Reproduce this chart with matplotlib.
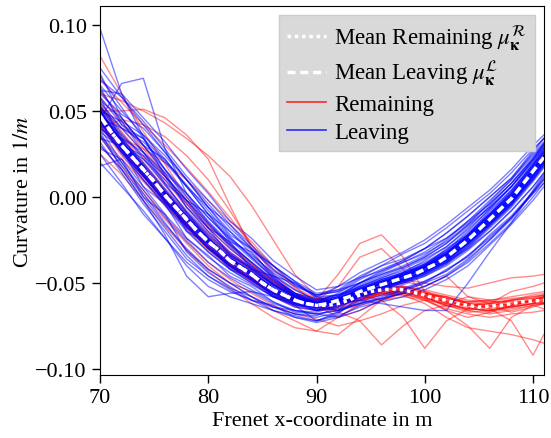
import numpy as np
import matplotlib
matplotlib.use("Agg")
import matplotlib.pyplot as plt
from matplotlib.lines import Line2D

plt.rcParams['font.family'] = ['Liberation Serif', 'DejaVu Serif']
plt.rcParams['mathtext.fontset'] = 'stix'
plt.rcParams['font.size'] = 16

# fine grid for the means (1 m), coarse grid for individual tracks (2 m)
x_mean = list(range(70, 112))
mean_remaining = [.047, .038, .030, .023, .016, .009, .001, -.006, -.013, -.020,
                  -.026, -.031, -.037, -.041, -.045, -.050, -.054, -.057, -.060, -.062,
                  -.063, -.063, -.062, -.060, -.057, -.055, -.054, -.0535, -.054, -.0555,
                  -.057, -.059, -.060, -.062, -.063, -.064, -.0635, -.063, -.062, -.061,
                  -.0605, -.060]
mean_leaving = [.047, .038, .030, .023, .016, .009, .001, -.006, -.013, -.020,
                -.026, -.031, -.037, -.041, -.045, -.050, -.054, -.057, -.060, -.062,
                -.063, -.062, -.060, -.058, -.055, -.053, -.051, -.049, -.047, -.045,
                -.042, -.039, -.035, -.030, -.025, -.019, -.013, -.007, -.001, .007,
                .015, .023]

x_track = [70, 72, 74, 76, 78, 80, 82, 84, 86, 88, 90, 92, 94, 96, 98, 100, 102, 104, 106, 108, 110, 111]

leaving_tracks = [
    [.052,.040,.034,.021,.007,-.008,-.023,-.035,-.047,-.056,-.061,-.058,-.050,-.043,-.037,-.030,-.021,-.011,.000,.011,.027,.034],
    [.040,.020,.002,-.015,-.031,-.042,-.050,-.055,-.062,-.066,-.068,-.066,-.062,-.059,-.056,-.052,-.046,-.037,-.025,-.013,.003,.011],
    [.098,.060,.035,.012,-.006,-.020,-.032,-.041,-.051,-.058,-.062,-.059,-.054,-.049,-.044,-.039,-.032,-.022,-.010,.003,.018,.026],
    [.045,.066,.069,.028,.002,-.015,-.029,-.040,-.050,-.057,-.061,-.060,-.054,-.050,-.045,-.040,-.033,-.023,-.011,.001,.016,.024],
    [.030,.016,-.002,-.022,-.046,-.058,-.056,-.055,-.058,-.062,-.066,-.064,-.058,-.053,-.049,-.044,-.037,-.027,-.016,-.004,.011,.019],
    [.060,.048,.040,.026,.010,-.006,-.020,-.033,-.045,-.054,-.060,-.057,-.051,-.046,-.041,-.035,-.027,-.016,-.003,.010,.026,.034],
    [.035,.018,.000,-.016,-.030,-.042,-.050,-.058,-.064,-.068,-.070,-.067,-.061,-.057,-.053,-.049,-.043,-.034,-.023,-.012,.003,.010],
    [.048,.028,.013,-.002,-.016,-.029,-.040,-.048,-.057,-.063,-.072,-.068,-.058,-.052,-.047,-.041,-.033,-.023,-.011,.002,.017,.025],
    [.055,.040,.026,.012,-.002,-.016,-.028,-.038,-.048,-.056,-.061,-.056,-.048,-.042,-.037,-.030,-.021,-.011,.000,.011,.025,.032],
    [.042,.026,.012,-.003,-.017,-.030,-.040,-.048,-.056,-.062,-.066,-.065,-.062,-.059,-.056,-.052,-.046,-.038,-.027,-.015,.000,.008],
    [.050,.032,.018,.003,-.011,-.024,-.035,-.044,-.053,-.059,-.063,-.062,-.060,-.062,-.064,-.066,-.066,-.050,-.032,-.015,.004,.013],
    [.065,.050,.036,.022,.006,-.010,-.024,-.035,-.046,-.054,-.060,-.058,-.052,-.047,-.043,-.038,-.031,-.021,-.009,.004,.019,.027],
    [.038,.016,-.002,-.018,-.034,-.046,-.054,-.060,-.066,-.070,-.072,-.067,-.060,-.054,-.049,-.044,-.036,-.026,-.014,-.002,.013,.021],
    [.045,.034,.026,.014,.002,-.012,-.024,-.034,-.044,-.052,-.057,-.055,-.050,-.045,-.040,-.034,-.025,-.014,-.002,.010,.024,.031],
    [.052,.027,.010,-.004,-.019,-.032,-.042,-.050,-.058,-.064,-.066,-.063,-.058,-.053,-.050,-.045,-.039,-.030,-.018,-.006,.009,.017],
    [.070,.052,.034,.016,.000,-.014,-.027,-.038,-.049,-.057,-.062,-.060,-.056,-.052,-.049,-.044,-.038,-.028,-.016,-.004,.012,.020],
    [.018,.022,.006,-.010,-.024,-.035,-.044,-.051,-.058,-.063,-.064,-.060,-.055,-.050,-.046,-.041,-.034,-.024,-.012,.000,.016,.024],
    [.058,.042,.030,.016,.002,-.012,-.025,-.036,-.047,-.056,-.064,-.061,-.054,-.048,-.044,-.039,-.031,-.020,-.007,.006,.022,.030],
    [.044,.025,.010,-.005,-.020,-.032,-.042,-.050,-.058,-.063,-.064,-.061,-.057,-.053,-.048,-.043,-.036,-.027,-.015,-.003,.012,.020],
    [.050,.031,.017,.002,-.012,-.025,-.036,-.045,-.054,-.060,-.062,-.059,-.055,-.050,-.046,-.041,-.034,-.024,-.012,.000,.015,.023],
    [.036,.020,.004,-.012,-.026,-.038,-.047,-.054,-.061,-.066,-.067,-.063,-.058,-.055,-.051,-.046,-.039,-.029,-.017,-.005,.010,.018],
    [.075,.058,.042,.026,.010,-.004,-.018,-.030,-.042,-.051,-.058,-.057,-.053,-.049,-.045,-.040,-.033,-.022,-.010,.002,.018,.026],
    [.046,.028,.013,-.003,-.017,-.030,-.040,-.048,-.057,-.063,-.066,-.063,-.057,-.052,-.048,-.043,-.037,-.027,-.015,-.002,.014,.022],
    [.053,.037,.022,.007,-.008,-.021,-.033,-.042,-.051,-.058,-.062,-.059,-.053,-.048,-.045,-.040,-.032,-.023,-.011,.001,.016,.024],
    [.040,.030,.022,.010,-.004,-.018,-.030,-.040,-.050,-.057,-.061,-.058,-.052,-.048,-.044,-.037,-.029,-.018,-.005,.008,.023,.031],
    [.062,.044,.026,.008,-.009,-.024,-.036,-.045,-.054,-.061,-.065,-.062,-.058,-.054,-.050,-.045,-.038,-.029,-.017,-.005,.010,.018],
    [.047,.036,.024,.012,-.002,-.015,-.027,-.038,-.048,-.056,-.060,-.057,-.052,-.047,-.042,-.036,-.029,-.019,-.007,.006,.021,.029],
    [.032,.014,-.004,-.020,-.036,-.046,-.053,-.058,-.064,-.068,-.069,-.064,-.059,-.054,-.050,-.046,-.040,-.031,-.020,-.008,.006,.014],
    [.064,.042,.034,.016,-.002,-.010,-.026,-.032,-.046,-.050,-.058,-.052,-.047,-.040,-.036,-.030,-.024,-.015,-.004,.008,.022,.030],
    [.028,.022,.000,-.010,-.032,-.044,-.052,-.060,-.063,-.070,-.073,-.070,-.066,-.060,-.055,-.050,-.045,-.036,-.025,-.012,.002,.008],
    [.056,.046,.030,.022,.006,-.006,-.022,-.030,-.043,-.050,-.057,-.054,-.046,-.040,-.033,-.027,-.018,-.008,.002,.014,.028,.034],
    [.038,.028,.006,-.004,-.024,-.034,-.046,-.052,-.061,-.067,-.068,-.070,-.063,-.059,-.054,-.050,-.042,-.035,-.022,-.011,.003,.012],
    [.068,.058,.044,.028,.012,-.002,-.016,-.028,-.040,-.049,-.056,-.054,-.050,-.044,-.038,-.033,-.026,-.016,-.006,.006,.020,.028],
    [.042,.034,.012,.002,-.020,-.027,-.042,-.047,-.058,-.060,-.066,-.060,-.058,-.050,-.048,-.040,-.036,-.024,-.015,-.002,.010,.020],
    [.025,.008,-.010,-.024,-.038,-.048,-.055,-.060,-.064,-.066,-.068,-.066,-.062,-.058,-.054,-.049,-.043,-.034,-.024,-.012,.002,.010],
    [.050,.044,.036,.024,.010,-.006,-.016,-.030,-.040,-.051,-.057,-.055,-.047,-.043,-.038,-.032,-.024,-.014,-.004,.008,.022,.031],
    [.072,.046,.030,.014,-.006,-.018,-.034,-.041,-.051,-.057,-.062,-.066,-.056,-.050,-.046,-.042,-.036,-.026,-.014,-.003,.012,.022],
    [.034,.030,.024,.008,-.002,-.018,-.026,-.042,-.046,-.058,-.063,-.059,-.054,-.051,-.044,-.040,-.030,-.022,-.008,.004,.019,.028],
    [.058,.032,.018,-.002,-.018,-.026,-.040,-.045,-.056,-.059,-.064,-.060,-.056,-.050,-.048,-.043,-.038,-.030,-.020,-.008,.006,.014],
    [.046,.040,.032,.020,.006,-.010,-.020,-.031,-.040,-.049,-.059,-.057,-.050,-.045,-.041,-.035,-.027,-.017,-.006,.006,.021,.029],
    [.020,.006,-.008,-.024,-.040,-.052,-.058,-.062,-.066,-.069,-.072,-.069,-.064,-.061,-.058,-.054,-.048,-.040,-.028,-.016,-.002,.006],
    [.062,.060,.046,.032,.016,.002,-.014,-.024,-.037,-.046,-.054,-.052,-.044,-.038,-.032,-.025,-.016,-.006,.004,.016,.030,.036],
    [.049,.033,.019,.004,-.010,-.023,-.034,-.043,-.052,-.058,-.062,-.059,-.053,-.049,-.045,-.040,-.033,-.023,-.011,.001,.017,.025],
    [.044,.028,.013,-.002,-.016,-.029,-.040,-.048,-.056,-.062,-.064,-.061,-.057,-.053,-.049,-.044,-.037,-.027,-.015,-.003,.013,.021],
    [.051,.032,.017,.003,-.012,-.024,-.036,-.043,-.053,-.059,-.063,-.060,-.054,-.050,-.046,-.041,-.034,-.024,-.012,.000,.016,.024],
    [.046,.031,.015,.000,-.014,-.027,-.038,-.046,-.055,-.061,-.063,-.061,-.056,-.052,-.048,-.043,-.036,-.026,-.014,-.002,.014,.022],
    [.043,.027,.014,.002,-.011,-.025,-.035,-.044,-.053,-.059,-.062,-.059,-.054,-.050,-.045,-.039,-.032,-.022,-.010,.002,.018,.026],
    [.050,.033,.017,.000,-.015,-.028,-.039,-.047,-.055,-.061,-.064,-.062,-.057,-.053,-.049,-.045,-.038,-.028,-.016,-.004,.011,.019],
    [.048,.029,.016,.003,-.011,-.024,-.035,-.044,-.052,-.058,-.061,-.058,-.053,-.049,-.046,-.041,-.034,-.024,-.013,-.001,.015,.023],
    [.045,.030,.014,-.001,-.015,-.027,-.038,-.046,-.055,-.061,-.065,-.062,-.056,-.052,-.047,-.042,-.035,-.025,-.013,-.001,.014,.022],
    [.052,.034,.020,.005,-.009,-.022,-.033,-.042,-.051,-.058,-.062,-.059,-.054,-.050,-.046,-.041,-.034,-.024,-.012,.000,.016,.024],
    [.041,.026,.012,-.003,-.017,-.030,-.041,-.049,-.057,-.062,-.064,-.061,-.056,-.052,-.048,-.043,-.036,-.026,-.014,-.002,.013,.021],
    [.047,.031,.018,.002,-.012,-.025,-.036,-.045,-.054,-.060,-.063,-.060,-.055,-.050,-.046,-.040,-.033,-.022,-.010,.003,.019,.027],
    [.053,.035,.018,.002,-.013,-.027,-.038,-.046,-.054,-.059,-.062,-.060,-.056,-.052,-.049,-.044,-.037,-.027,-.016,-.004,.012,.020],
    [.046,.029,.015,.001,-.014,-.026,-.036,-.044,-.053,-.060,-.063,-.060,-.055,-.051,-.047,-.042,-.035,-.025,-.013,-.001,.015,.023],
    [.044,.030,.017,.002,-.012,-.025,-.036,-.045,-.054,-.060,-.062,-.059,-.054,-.050,-.046,-.041,-.035,-.025,-.013,.000,.016,.024],
]

remaining_tracks = [
    [.050,.050,.051,.046,.036,.022,-.005,-.030,-.048,-.058,-.062,-.063,-.058,-.053,-.052,-.055,-.058,-.062,-.065,-.063,-.060,-.058],
    [.040,.045,.042,.035,.024,.010,-.008,-.028,-.045,-.056,-.064,-.066,-.060,-.056,-.055,-.058,-.061,-.064,-.066,-.064,-.062,-.061],
    [.045,.028,.013,-.002,-.016,-.029,-.039,-.047,-.055,-.060,-.060,-.045,-.027,-.022,-.035,-.055,-.062,-.058,-.060,-.064,-.062,-.060],
    [.055,.040,.026,.010,-.006,-.020,-.032,-.041,-.050,-.057,-.060,-.062,-.060,-.056,-.055,-.059,-.066,-.070,-.067,-.063,-.060,-.058],
    [.035,.018,.004,-.011,-.025,-.038,-.048,-.056,-.063,-.068,-.071,-.075,-.072,-.068,-.063,-.060,-.062,-.065,-.066,-.064,-.062,-.061],
    [.048,.030,.016,.001,-.014,-.027,-.037,-.045,-.053,-.059,-.061,-.060,-.057,-.060,-.070,-.088,-.072,-.065,-.062,-.060,-.059,-.057],
    [.042,.024,.010,-.004,-.018,-.031,-.041,-.049,-.056,-.062,-.064,-.066,-.063,-.060,-.058,-.060,-.066,-.075,-.088,-.070,-.063,-.062],
    [.058,.044,.028,.012,-.004,-.018,-.030,-.040,-.049,-.056,-.059,-.061,-.058,-.055,-.054,-.056,-.059,-.062,-.065,-.072,-.092,-.080],
    [.044,.026,.012,-.003,-.017,-.030,-.040,-.048,-.056,-.061,-.062,-.060,-.054,-.049,-.048,-.050,-.052,-.053,-.050,-.047,-.046,-.045],
    [.050,.032,.018,.003,-.012,-.026,-.036,-.044,-.053,-.060,-.063,-.067,-.072,-.086,-.075,-.066,-.063,-.061,-.060,-.059,-.058,-.057],
    [.036,.022,.009,-.005,-.018,-.030,-.039,-.047,-.055,-.061,-.064,-.064,-.058,-.053,-.052,-.055,-.059,-.061,-.060,-.058,-.056,-.055],
    [.068,.055,.042,.030,.017,.003,-.012,-.028,-.042,-.053,-.059,-.061,-.059,-.056,-.056,-.060,-.065,-.068,-.070,-.068,-.067,-.066],
    [.030,.016,.002,-.013,-.027,-.040,-.050,-.058,-.066,-.072,-.078,-.070,-.062,-.055,-.052,-.054,-.057,-.060,-.061,-.060,-.059,-.058],
    [.052,.034,.019,.004,-.011,-.024,-.034,-.043,-.051,-.058,-.061,-.063,-.060,-.055,-.053,-.056,-.061,-.066,-.068,-.066,-.063,-.065],
    [.046,.029,.014,-.001,-.016,-.029,-.039,-.047,-.055,-.061,-.063,-.062,-.058,-.056,-.057,-.062,-.070,-.076,-.078,-.080,-.083,-.085],
    [.039,.034,.028,.020,.010,-.002,-.014,-.026,-.040,-.052,-.062,-.061,-.056,-.052,-.053,-.058,-.063,-.066,-.064,-.060,-.057,-.056],
    [.062,.046,.030,.013,-.003,-.017,-.028,-.039,-.049,-.057,-.061,-.060,-.055,-.050,-.049,-.052,-.046,-.058,-.062,-.055,-.052,-.050],
    [.043,.027,.012,-.002,-.016,-.029,-.040,-.049,-.058,-.064,-.066,-.065,-.060,-.057,-.057,-.059,-.061,-.063,-.061,-.061,-.061,-.061],
    [.047,.031,.017,.002,-.013,-.026,-.036,-.045,-.054,-.060,-.060,-.052,-.035,-.030,-.042,-.058,-.064,-.062,-.063,-.067,-.064,-.062],
    [.054,.038,.023,.007,-.009,-.022,-.033,-.042,-.051,-.058,-.063,-.070,-.066,-.060,-.056,-.056,-.058,-.062,-.064,-.063,-.061,-.060],
    [.082,.060,.038,.019,.000,-.016,-.028,-.039,-.049,-.056,-.059,-.060,-.057,-.055,-.054,-.057,-.060,-.063,-.064,-.062,-.060,-.059],
    [.025,.013,-.002,-.017,-.031,-.043,-.053,-.062,-.070,-.076,-.078,-.080,-.070,-.060,-.056,-.058,-.063,-.067,-.066,-.063,-.060,-.058],
    [.060,.056,.050,.043,.034,.024,.012,-.005,-.025,-.045,-.058,-.062,-.060,-.057,-.056,-.059,-.063,-.065,-.063,-.061,-.060,-.059],
    [.047,.030,.016,.001,-.013,-.026,-.037,-.045,-.054,-.060,-.063,-.061,-.056,-.053,-.053,-.056,-.059,-.062,-.063,-.062,-.060,-.059],
    [.044,.028,.014,-.001,-.015,-.028,-.039,-.047,-.056,-.061,-.064,-.063,-.058,-.055,-.055,-.058,-.062,-.065,-.066,-.064,-.062,-.062],
    [.050,.032,.017,.002,-.012,-.025,-.036,-.044,-.053,-.059,-.062,-.060,-.055,-.052,-.053,-.057,-.058,-.061,-.062,-.060,-.058,-.057],
    [.041,.026,.012,-.002,-.016,-.029,-.040,-.048,-.056,-.062,-.065,-.064,-.059,-.056,-.055,-.056,-.060,-.064,-.067,-.065,-.063,-.062],
    [.053,.036,.020,.004,-.010,-.023,-.034,-.042,-.051,-.058,-.062,-.061,-.057,-.054,-.055,-.057,-.061,-.063,-.062,-.063,-.061,-.062],
]

labels = ["Mean Remaining $\\mu_{\\mathbf{\\kappa}}^{\\mathcal{R}}$",
          "Mean Leaving $\\mu_{\\mathbf{\\kappa}}^{\\mathcal{L}}$",
          "Remaining", "Leaving"]

fig = plt.figure(figsize=(5.51, 4.39), dpi=100)
ax = fig.add_axes([0.1815, 0.1435, 0.8055, 0.8405])

for tr in remaining_tracks:
    ax.plot(x_track, tr, color='#ff0000', alpha=0.45, lw=1.0)
for tr in leaving_tracks:
    ax.plot(x_track, tr, color='#0000ff', alpha=0.5, lw=1.0)

dot_style = (0, (1, 1.1))
dash_style = (0, (2.3, 1.4))
ax.plot(x_mean, mean_remaining, color='white', lw=2.5, linestyle=dot_style)
ax.plot(x_mean, mean_leaving, color='white', lw=2.5, linestyle=dash_style)

ax.set_xlim(70, 111)
ax.set_ylim(-0.1035, 0.111)
ax.set_xticks([70, 80, 90, 100, 110])
ax.set_yticks([-0.10, -0.05, 0.00, 0.05, 0.10])
ax.tick_params(direction='out', length=6, width=1, labelsize=16)
ax.set_xlabel("Frenet x-coordinate in m", fontsize=16, labelpad=3)
ax.set_ylabel("Curvature in $1/m$", fontsize=16, labelpad=2)

handles = [Line2D([], [], color='white', lw=2.5, linestyle=dot_style),
           Line2D([], [], color='white', lw=2.5, linestyle=dash_style),
           Line2D([], [], color='#ff0000', alpha=0.8, lw=1.2),
           Line2D([], [], color='#0000ff', alpha=0.8, lw=1.2)]
leg = ax.legend(handles, labels, loc='upper right', fontsize=16.5, fancybox=False,
                facecolor='#d9d9d9', edgecolor='#cccccc', framealpha=1.0,
                borderaxespad=0.4, handlelength=1.7, handletextpad=0.35,
                labelspacing=0.28, borderpad=0.35)

fig.savefig("out.png", dpi=100)
